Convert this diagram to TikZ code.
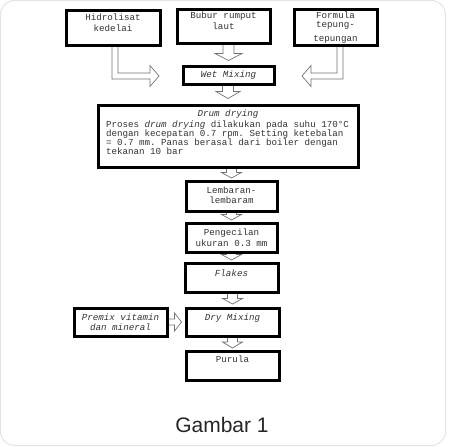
\documentclass[tikz,border=0pt]{standalone}
\usepackage{fontspec}
\setmainfont{Liberation Sans}
\setmonofont{Liberation Mono}
\usetikzlibrary{calc,backgrounds}
\definecolor{framecol}{HTML}{E0E5EC}
\definecolor{txtcol}{HTML}{333333}
\tikzset{
  box/.style={draw=black, line width=3pt, fill=white, inner sep=0pt, text=txtcol},
  blk/.style={draw=black!55, line width=0.7pt, fill=white},
  capt/.style={anchor=base, inner sep=0pt, text=black!85, font=\fontsize{21}{21}\selectfont}
}
% #1 width, #2 height, #3 first baseline offset, #4 baselineskip, #5 text
\newcommand\bxt[5]{\parbox[c][#2pt][t]{#1pt}{\ttfamily\fontsize{9.2}{#4}\selectfont\centering\rule{0pt}{#3pt}#5\par}}
% vertical block arrow: #1 src, #2 tgt, #3 shaft half, #4 head half, #5 head length, #6 gap
\newcommand\darr[6]{%
  \draw[blk] let \p1=(#1.south), \p2=(#2.north) in
    (\x2-#3pt,\y1) -- (\x2-#3pt,\y2+1.5pt+#6pt+#5pt) -- (\x2-#4pt,\y2+1.5pt+#6pt+#5pt)
    -- (\x2,\y2+1.5pt+#6pt) -- (\x2+#4pt,\y2+1.5pt+#6pt+#5pt) -- (\x2+#3pt,\y2+1.5pt+#6pt+#5pt)
    -- (\x2+#3pt,\y1);}
\begin{document}
\begin{tikzpicture}[x=1pt,y=-1pt]
\useasboundingbox (0,0) rectangle (450,447);
\draw[draw=framecol, line width=1pt, rounded corners=14pt] (0.5,0.5) rectangle (445.5,445.5);

\node[box] (hid) at (113,27.5) {\bxt{94}{35}{10.2}{11.2}{Hidrolisat\\kedelai}};
\node[box] (bub) at (223.5,26) {\bxt{93}{34}{9.2}{11}{Bubur rumput\\laut}};
\node[box] (form) at (335.5,27) {\bxt{83}{36}{9.7}{9}{Formula\\tepung-\\[4.5pt]tepungan}};
\node[box] (wet) at (228.5,75) {\bxt{91}{18}{11.7}{9}{\textit{Wet Mixing}}};
\node[box] (drum) at (228,136) {\parbox[c][62pt][t]{260pt}{\ttfamily\fontsize{9.2}{9}\selectfont
  \centering\rule{0pt}{11.7pt}\textit{Drum drying}\par
  \vspace{2pt}
  \raggedright\leftskip=8pt
  Proses \textit{drum drying} dilakukan pada suhu 170°C\\
  dengan kecepatan 0.7 rpm. Setting ketebalan\\
  = 0.7 mm. Panas berasal dari boiler dengan\\
  tekanan 10 bar\par}};
\node[box] (lem) at (231.5,196) {\bxt{91}{30}{12.7}{9.5}{Lembaran-\\lembaram}};
\node[box] (pen) at (231.5,237.5) {\bxt{91}{29}{12.2}{11.5}{Pengecilan\\ukuran 0.3 mm}};
\node[box] (fla) at (231.5,277.5) {\bxt{93}{29}{13.7}{9}{\textit{Flakes}}};
\node[box] (dry) at (232.5,322) {\bxt{93}{28}{12.7}{9}{\textit{Dry Mixing}}};
\node[box] (pre) at (120.5,322) {\bxt{93}{28}{12.7}{9.6}{\textit{Premix vitamin\\dan mineral}}};
\node[box] (pur) at (232.5,365.5) {\bxt{93}{29}{11.7}{9}{Purula}};

\coordinate (hidtip) at (159,76);
\coordinate (formtip) at (302,76);

\node[capt] (cap) at (222,432) {Gambar 1};

\begin{scope}[on background layer]
  \darr{bub}{wet}{5.5}{13.5}{7}{2.5}
  \darr{wet}{drum}{5.5}{12}{7}{3.5}
  \darr{drum}{lem}{5}{10}{5.5}{0}
  \darr{lem}{pen}{5}{10}{5.5}{0}
  \darr{pen}{fla}{5}{10}{5.5}{0}
  \darr{fla}{dry}{5}{10}{5.5}{1}
  \darr{dry}{pur}{5}{10}{6}{0}
  % elbow arrows
  \draw[blk] let \p1=(hid.south), \p2=(hidtip) in
    (\x1-1pt,\y1) -- (\x1-1pt,\y2-3pt) -- (\x2-9pt,\y2-3pt) -- (\x2-9pt,\y2-10.5pt)
    -- (\x2,\y2) -- (\x2-9pt,\y2+10.5pt) -- (\x2-9pt,\y2+3pt) -- (\x1+5pt,\y2+3pt) -- (\x1+5pt,\y1);
  \draw[blk] let \p1=(form.south), \p2=(formtip) in
    (\x1+7.5pt,\y1) -- (\x1+7.5pt,\y2-3pt) -- (\x2+9pt,\y2-3pt) -- (\x2+9pt,\y2-10.5pt)
    -- (\x2,\y2) -- (\x2+9pt,\y2+10.5pt) -- (\x2+9pt,\y2+3pt) -- (\x1+1.5pt,\y2+3pt) -- (\x1+1.5pt,\y1);
  % premix to dry mixing
  \draw[blk] let \p1=(pre.east), \p2=(dry.west) in
    (\x1,\y1+3pt) -- (\x2-10pt,\y1+3pt) -- (\x2-10pt,\y1+9pt) -- (\x2-3pt,\y1)
    -- (\x2-10pt,\y1-9pt) -- (\x2-10pt,\y1-3pt) -- (\x1,\y1-3pt);
\end{scope}
\end{tikzpicture}
\end{document}
